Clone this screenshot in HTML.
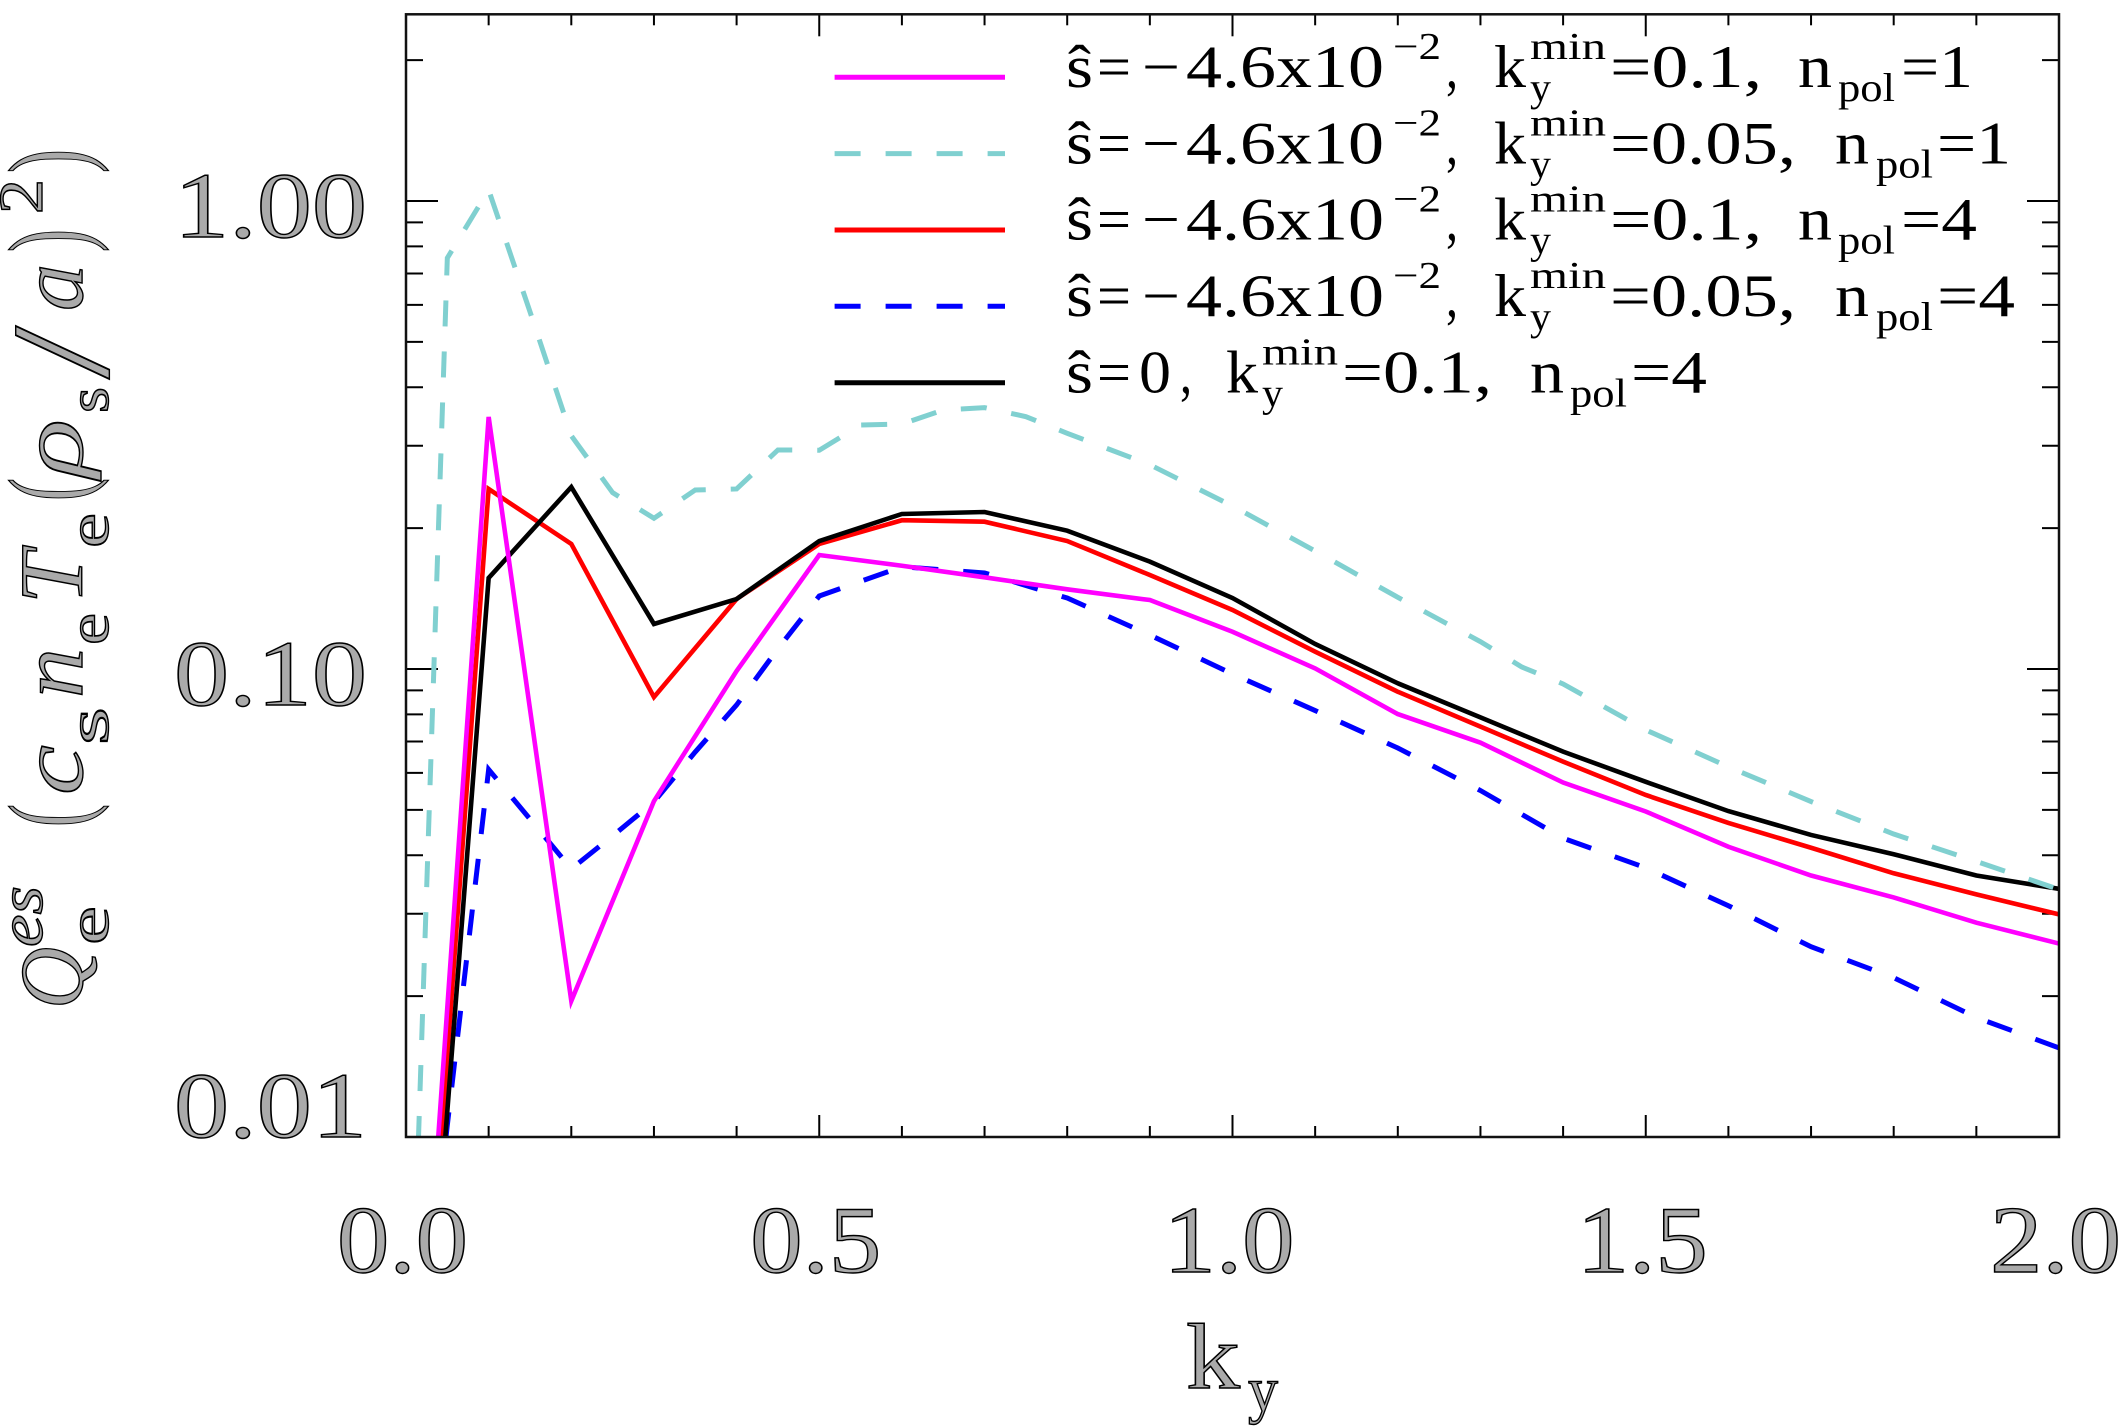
<!DOCTYPE html>
<html lang="en">
<head>
<meta charset="utf-8">
<title>Electrostatic electron heat flux versus ky</title>
<style>
html,body{margin:0;padding:0;background:#fff;overflow:hidden;}
svg{display:block;}
text{font-family:"Liberation Serif",serif;fill:#000;}
.big{fill:#aaa;stroke:#000;stroke-width:1.4px;}
.lab{fill:#aaa;stroke:#000;stroke-width:1.4px;}
.lab .it{font-style:italic;}
.leg{font-size:60px;}
</style>
</head>
<body>
<svg id="chart" xmlns="http://www.w3.org/2000/svg" width="2123" height="1428" viewBox="0 0 2123 1428">
<defs><clipPath id="plot-clip"><rect x="406" y="14.3" width="1653" height="1122.7"/></clipPath></defs>
<g id="ticks"></g>
<g id="series" clip-path="url(#plot-clip)"></g>
<rect x="406" y="14.3" width="1653" height="1122.7" fill="none" stroke="#111" stroke-width="2.5"/>
<g id="tick-labels"></g>

<text class="lab" transform="rotate(-90)" font-size="90"><tspan class="it" x="-1009" y="82" textLength="62" lengthAdjust="spacingAndGlyphs">Q</tspan><tspan class="it" x="-947" y="42" font-size="62" textLength="61" lengthAdjust="spacingAndGlyphs">es</tspan><tspan x="-945" y="108" font-size="58" textLength="39" lengthAdjust="spacingAndGlyphs">e</tspan><tspan x="-827" y="85" font-size="110" textLength="23" lengthAdjust="spacingAndGlyphs">(</tspan><tspan class="it" x="-795" y="82" textLength="50" lengthAdjust="spacingAndGlyphs">c</tspan><tspan x="-745" y="108" font-size="58" textLength="38" lengthAdjust="spacingAndGlyphs">s</tspan><tspan class="it" x="-698" y="82" textLength="50" lengthAdjust="spacingAndGlyphs">n</tspan><tspan x="-645" y="108" font-size="58" textLength="32" lengthAdjust="spacingAndGlyphs">e</tspan><tspan class="it" x="-604" y="82" textLength="53" lengthAdjust="spacingAndGlyphs">T</tspan><tspan x="-548" y="108" font-size="58" textLength="35" lengthAdjust="spacingAndGlyphs">e</tspan><tspan x="-501" y="85" font-size="110" textLength="23" lengthAdjust="spacingAndGlyphs">(</tspan><tspan class="it" x="-478" y="82" textLength="59" lengthAdjust="spacingAndGlyphs">ρ</tspan><tspan x="-413" y="108" font-size="58" textLength="26" lengthAdjust="spacingAndGlyphs">s</tspan><tspan x="-379" y="108" font-size="140" textLength="53" lengthAdjust="spacingAndGlyphs">/</tspan><tspan class="it" x="-311" y="82" textLength="47" lengthAdjust="spacingAndGlyphs">a</tspan><tspan x="-252" y="85" font-size="110" textLength="23" lengthAdjust="spacingAndGlyphs">)</tspan><tspan x="-214" y="42" font-size="62" textLength="35" lengthAdjust="spacingAndGlyphs">2</tspan><tspan x="-173" y="85" font-size="110" textLength="24" lengthAdjust="spacingAndGlyphs">)</tspan></text>

<text class="lab" font-size="93"><tspan x="1186" y="1388" textLength="54" lengthAdjust="spacingAndGlyphs">k</tspan><tspan x="1248" y="1411" font-size="64" textLength="30" lengthAdjust="spacingAndGlyphs">y</tspan></text>

<g>
<g>
<line x1="834.6" x2="1005" y1="77.3" y2="77.3" stroke="#ff00ff" stroke-width="5"/>
<text class="leg"><tspan x="1066" y="87" textLength="27" lengthAdjust="spacingAndGlyphs">ŝ</tspan><tspan x="1097" y="87" textLength="34" lengthAdjust="spacingAndGlyphs">=</tspan><tspan x="1142" y="87" textLength="38" lengthAdjust="spacingAndGlyphs">−</tspan><tspan x="1186" y="87" textLength="198" lengthAdjust="spacingAndGlyphs">4.6x10</tspan><tspan x="1393" y="59" font-size="38" textLength="48" lengthAdjust="spacingAndGlyphs">−2</tspan><tspan x="1446" y="87" textLength="12" lengthAdjust="spacingAndGlyphs">,</tspan><tspan x="1494" y="87" textLength="32" lengthAdjust="spacingAndGlyphs">k</tspan><tspan x="1530" y="59" font-size="38" textLength="76" lengthAdjust="spacingAndGlyphs">min</tspan><tspan x="1530" y="101" font-size="40" textLength="21" lengthAdjust="spacingAndGlyphs">y</tspan><tspan x="1610" y="87" textLength="152" lengthAdjust="spacingAndGlyphs">=0.1,</tspan><tspan x="1798" y="87" textLength="34" lengthAdjust="spacingAndGlyphs">n</tspan><tspan x="1838" y="101" font-size="40" textLength="57" lengthAdjust="spacingAndGlyphs">pol</tspan><tspan x="1901" y="87" textLength="72" lengthAdjust="spacingAndGlyphs">=1</tspan></text>
</g>
<g transform="translate(0 76.3)">
<line x1="834.6" x2="1005" y1="77.3" y2="77.3" stroke="#80d0d0" stroke-width="5" stroke-dasharray="26 25"/>
<text class="leg"><tspan x="1066" y="87" textLength="27" lengthAdjust="spacingAndGlyphs">ŝ</tspan><tspan x="1097" y="87" textLength="34" lengthAdjust="spacingAndGlyphs">=</tspan><tspan x="1142" y="87" textLength="38" lengthAdjust="spacingAndGlyphs">−</tspan><tspan x="1186" y="87" textLength="198" lengthAdjust="spacingAndGlyphs">4.6x10</tspan><tspan x="1393" y="59" font-size="38" textLength="48" lengthAdjust="spacingAndGlyphs">−2</tspan><tspan x="1446" y="87" textLength="12" lengthAdjust="spacingAndGlyphs">,</tspan><tspan x="1494" y="87" textLength="32" lengthAdjust="spacingAndGlyphs">k</tspan><tspan x="1530" y="59" font-size="38" textLength="76" lengthAdjust="spacingAndGlyphs">min</tspan><tspan x="1530" y="101" font-size="40" textLength="21" lengthAdjust="spacingAndGlyphs">y</tspan><tspan x="1610" y="87" textLength="186" lengthAdjust="spacingAndGlyphs">=0.05,</tspan><tspan x="1835" y="87" textLength="34" lengthAdjust="spacingAndGlyphs">n</tspan><tspan x="1876" y="101" font-size="40" textLength="57" lengthAdjust="spacingAndGlyphs">pol</tspan><tspan x="1937" y="87" textLength="74" lengthAdjust="spacingAndGlyphs">=1</tspan></text>
</g>
<g transform="translate(0 152.7)">
<line x1="834.6" x2="1005" y1="77.3" y2="77.3" stroke="#ff0000" stroke-width="5"/>
<text class="leg"><tspan x="1066" y="87" textLength="27" lengthAdjust="spacingAndGlyphs">ŝ</tspan><tspan x="1097" y="87" textLength="34" lengthAdjust="spacingAndGlyphs">=</tspan><tspan x="1142" y="87" textLength="38" lengthAdjust="spacingAndGlyphs">−</tspan><tspan x="1186" y="87" textLength="198" lengthAdjust="spacingAndGlyphs">4.6x10</tspan><tspan x="1393" y="59" font-size="38" textLength="48" lengthAdjust="spacingAndGlyphs">−2</tspan><tspan x="1446" y="87" textLength="12" lengthAdjust="spacingAndGlyphs">,</tspan><tspan x="1494" y="87" textLength="32" lengthAdjust="spacingAndGlyphs">k</tspan><tspan x="1530" y="59" font-size="38" textLength="76" lengthAdjust="spacingAndGlyphs">min</tspan><tspan x="1530" y="101" font-size="40" textLength="21" lengthAdjust="spacingAndGlyphs">y</tspan><tspan x="1610" y="87" textLength="152" lengthAdjust="spacingAndGlyphs">=0.1,</tspan><tspan x="1798" y="87" textLength="34" lengthAdjust="spacingAndGlyphs">n</tspan><tspan x="1838" y="101" font-size="40" textLength="57" lengthAdjust="spacingAndGlyphs">pol</tspan><tspan x="1901" y="87" textLength="76" lengthAdjust="spacingAndGlyphs">=4</tspan></text>
</g>
<g transform="translate(0 229)">
<line x1="834.6" x2="1005" y1="77.3" y2="77.3" stroke="#0000ff" stroke-width="5" stroke-dasharray="26 25"/>
<text class="leg"><tspan x="1066" y="87" textLength="27" lengthAdjust="spacingAndGlyphs">ŝ</tspan><tspan x="1097" y="87" textLength="34" lengthAdjust="spacingAndGlyphs">=</tspan><tspan x="1142" y="87" textLength="38" lengthAdjust="spacingAndGlyphs">−</tspan><tspan x="1186" y="87" textLength="198" lengthAdjust="spacingAndGlyphs">4.6x10</tspan><tspan x="1393" y="59" font-size="38" textLength="48" lengthAdjust="spacingAndGlyphs">−2</tspan><tspan x="1446" y="87" textLength="12" lengthAdjust="spacingAndGlyphs">,</tspan><tspan x="1494" y="87" textLength="32" lengthAdjust="spacingAndGlyphs">k</tspan><tspan x="1530" y="59" font-size="38" textLength="76" lengthAdjust="spacingAndGlyphs">min</tspan><tspan x="1530" y="101" font-size="40" textLength="21" lengthAdjust="spacingAndGlyphs">y</tspan><tspan x="1610" y="87" textLength="186" lengthAdjust="spacingAndGlyphs">=0.05,</tspan><tspan x="1835" y="87" textLength="34" lengthAdjust="spacingAndGlyphs">n</tspan><tspan x="1876" y="101" font-size="40" textLength="57" lengthAdjust="spacingAndGlyphs">pol</tspan><tspan x="1937" y="87" textLength="78" lengthAdjust="spacingAndGlyphs">=4</tspan></text>
</g>
<g transform="translate(0 305.4)">
<line x1="834.6" x2="1005" y1="77.3" y2="77.3" stroke="#000000" stroke-width="5"/>
<text class="leg"><tspan x="1066" y="87" textLength="27" lengthAdjust="spacingAndGlyphs">ŝ</tspan><tspan x="1097" y="87" textLength="34" lengthAdjust="spacingAndGlyphs">=</tspan><tspan x="1139" y="87" textLength="32" lengthAdjust="spacingAndGlyphs">0</tspan><tspan x="1180" y="87" textLength="12" lengthAdjust="spacingAndGlyphs">,</tspan><tspan x="1226" y="87" textLength="32" lengthAdjust="spacingAndGlyphs">k</tspan><tspan x="1262" y="59" font-size="38" textLength="76" lengthAdjust="spacingAndGlyphs">min</tspan><tspan x="1262" y="101" font-size="40" textLength="21" lengthAdjust="spacingAndGlyphs">y</tspan><tspan x="1342" y="87" textLength="150" lengthAdjust="spacingAndGlyphs">=0.1,</tspan><tspan x="1530" y="87" textLength="34" lengthAdjust="spacingAndGlyphs">n</tspan><tspan x="1570" y="101" font-size="40" textLength="57" lengthAdjust="spacingAndGlyphs">pol</tspan><tspan x="1631" y="87" textLength="76" lengthAdjust="spacingAndGlyphs">=4</tspan></text>
</g>
</g>
</svg>

<script>
// Coarse wavenumber grid used by the solid runs
var kyCoarse = [0, 0.1, 0.2, 0.3, 0.4, 0.5, 0.6, 0.7, 0.8, 0.9, 1.0, 1.1, 1.2, 1.3, 1.4, 1.5, 1.6, 1.7, 1.8, 1.9, 2.0];
// Wavenumber grids of the dashed runs
var kyBlue = [0, 0.05, 0.1, 0.15, 0.2, 0.25, 0.3, 0.35, 0.4, 0.45, 0.5, 0.6, 0.7, 0.8, 0.9, 1.0, 1.1, 1.2, 1.3, 1.4, 1.5, 1.6, 1.7, 1.8, 1.9, 2.0];
var kyCyan = [0, 0.05, 0.1, 0.15, 0.2, 0.25, 0.3, 0.35, 0.4, 0.45, 0.5, 0.55, 0.6, 0.65, 0.7, 0.75, 0.8, 0.9, 1.0, 1.1, 1.2, 1.3, 1.35, 1.4, 1.5, 1.6, 1.7, 1.8, 1.9, 2.0];

var fluxMagenta = [0.001035, 0.3456, 0.01953, 0.0522, 0.0990, 0.1752, 0.1662, 0.1570, 0.1480, 0.1404, 0.1201, 0.1003, 0.0801, 0.0696, 0.0572, 0.0496, 0.0417, 0.0362, 0.0325, 0.0287, 0.0259];
var fluxRed = [0.000929, 0.2425, 0.1850, 0.0871, 0.1411, 0.1850, 0.2079, 0.2064, 0.1877, 0.1588, 0.1337, 0.1089, 0.0894, 0.0753, 0.0634, 0.0538, 0.0469, 0.0415, 0.0366, 0.0330, 0.0299];
var fluxBlack = [0.000826, 0.1565, 0.2448, 0.1248, 0.1411, 0.1877, 0.2144, 0.2165, 0.1975, 0.1696, 0.1418, 0.1131, 0.0932, 0.0788, 0.0666, 0.0574, 0.0497, 0.0442, 0.0402, 0.0362, 0.0339];
var fluxBlue = [0.00168, 0.0106, 0.0610, 0.0478, 0.0374, 0.0440, 0.0520, 0.0665, 0.0838, 0.1105, 0.1432, 0.1654, 0.1604, 0.1418, 0.1182, 0.0976, 0.0815, 0.0678, 0.0550, 0.0435, 0.0376, 0.0312, 0.0255, 0.0219, 0.0180, 0.0155];
var fluxCyan = [0.00153, 0.7554, 1.056, 0.580, 0.3151, 0.2381, 0.2099, 0.2413, 0.2425, 0.2938, 0.2934, 0.3321, 0.3337, 0.3576, 0.3618, 0.3461, 0.3189, 0.2732, 0.2230, 0.1787, 0.1423, 0.1144, 0.1010, 0.0929, 0.0741, 0.0618, 0.0521, 0.0444, 0.0388, 0.0338];

// Axis ticks and their labels
var xMajorTicks = [0.5, 1.0, 1.5];
var xMinorTicks = [0.1, 0.2, 0.3, 0.4, 0.6, 0.7, 0.8, 0.9, 1.1, 1.2, 1.3, 1.4, 1.6, 1.7, 1.8, 1.9];
var yMajorTicks = [0.1, 1];
var yMinorTicks = [0.02, 0.03, 0.04, 0.05, 0.06, 0.07, 0.08, 0.09, 0.2, 0.3, 0.4, 0.5, 0.6, 0.7, 0.8, 0.9, 2];
var xLabelValues = [0, 0.5, 1, 1.5, 2];
var xLabelText = ['0.0', '0.5', '1.0', '1.5', '2.0'];
var yLabelValues = [1, 0.1, 0.01];
var yLabelText = ['1.00', '0.10', '0.01'];

var SVGNS = 'http://www.w3.org/2000/svg';
var plotLeft = 406, plotRight = 2059, plotTop = 14.3, plotBottom = 1137;
var xMin = 0, xMax = 2;
var yMin = 0.01, yDecadePx = 468;

function xScale(k) {
  return plotLeft + (k - xMin) / (xMax - xMin) * (plotRight - plotLeft);
}
function yScale(v) {
  return plotBottom - (Math.log10(v) - Math.log10(yMin)) * yDecadePx;
}
function makeLine(parent, x1, y1, x2, y2) {
  var l = document.createElementNS(SVGNS, 'line');
  l.setAttribute('x1', x1);
  l.setAttribute('y1', y1);
  l.setAttribute('x2', x2);
  l.setAttribute('y2', y2);
  l.setAttribute('stroke', '#000');
  l.setAttribute('stroke-width', '2');
  parent.appendChild(l);
  return l;
}
// Points below the axis floor are cut where the segment meets the floor.
function drawSeries(name, xs, ys, color, dashOffset) {
  var p = document.createElementNS(SVGNS, 'polyline');
  var pts = [];
  for (var i = 0; i < xs.length; i++) {
    var px = xScale(xs[i]), py = yScale(ys[i]);
    if (py > plotBottom) {
      if (i + 1 < xs.length && yScale(ys[i + 1]) <= plotBottom) {
        var nx = xScale(xs[i + 1]), ny = yScale(ys[i + 1]);
        var f = (plotBottom - ny) / (py - ny);
        pts.push((nx + (px - nx) * f).toFixed(2) + ',' + plotBottom);
      }
      continue;
    }
    pts.push(px.toFixed(2) + ',' + py.toFixed(2));
  }
  p.setAttribute('points', pts.join(' '));
  p.setAttribute('fill', 'none');
  p.setAttribute('stroke', color);
  p.setAttribute('stroke-width', dashOffset === null ? '4.6' : '5');
  p.setAttribute('stroke-linejoin', 'miter');
  if (dashOffset !== null) {
    p.setAttribute('stroke-dasharray', '26 25');
    p.setAttribute('stroke-dashoffset', dashOffset);
  }
  
  
  document.getElementById('series').appendChild(p);
}

var tickGroup = document.getElementById('ticks');
xMajorTicks.forEach(function (k) {
  var b = makeLine(tickGroup, xScale(k), plotBottom, xScale(k), plotBottom - 22);
  
  
  var t = makeLine(tickGroup, xScale(k), plotTop, xScale(k), plotTop + 22);
  
  
});
xMinorTicks.forEach(function (k) {
  var b = makeLine(tickGroup, xScale(k), plotBottom, xScale(k), plotBottom - 11);
  
  
  var t = makeLine(tickGroup, xScale(k), plotTop, xScale(k), plotTop + 11);
  
  
});
yMajorTicks.forEach(function (v) {
  var l = makeLine(tickGroup, plotLeft, yScale(v), plotLeft + 32, yScale(v));
  
  
  var r = makeLine(tickGroup, plotRight, yScale(v), plotRight - 32, yScale(v));
  
  
});
yMinorTicks.forEach(function (v) {
  var l = makeLine(tickGroup, plotLeft, yScale(v), plotLeft + 17, yScale(v));
  
  
  var r = makeLine(tickGroup, plotRight, yScale(v), plotRight - 17, yScale(v));
  
  
});

var labelGroup = document.getElementById('tick-labels');
xLabelValues.forEach(function (k, i) {
  var t = document.createElementNS(SVGNS, 'text');
  t.textContent = xLabelText[i];
  t.setAttribute('class', 'big');
  t.setAttribute('font-size', '95');
  t.setAttribute('x', xScale(k) - 69);
  t.setAttribute('y', 1272);
  t.setAttribute('textLength', '131');
  t.setAttribute('lengthAdjust', 'spacingAndGlyphs');
  
  
  labelGroup.appendChild(t);
});
yLabelValues.forEach(function (v, i) {
  var t = document.createElementNS(SVGNS, 'text');
  t.textContent = yLabelText[i];
  t.setAttribute('class', 'big');
  t.setAttribute('font-size', '93');
  t.setAttribute('x', 174);
  t.setAttribute('y', Math.min(yScale(v) + 36, plotBottom));
  t.setAttribute('textLength', '193');
  t.setAttribute('lengthAdjust', 'spacingAndGlyphs');
  
  
  labelGroup.appendChild(t);
});

drawSeries('series-blue-dashed', kyBlue, fluxBlue, '#0000ff', 1);
drawSeries('series-red', kyCoarse, fluxRed, '#ff0000', null);
drawSeries('series-black', kyCoarse, fluxBlack, '#000000', null);
drawSeries('series-cyan-dashed', kyCyan, fluxCyan, '#80d0d0', 5);
drawSeries('series-magenta', kyCoarse, fluxMagenta, '#ff00ff', null);
</script>
</body>
</html>
